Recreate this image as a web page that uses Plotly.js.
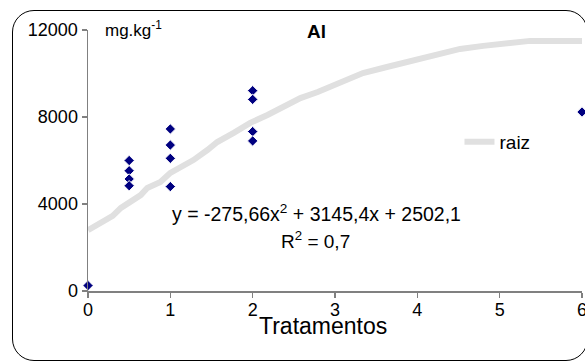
<!DOCTYPE html>
<html>
<head>
<meta charset="utf-8">
<script src="https://cdn.plot.ly/plotly-3.0.1.min.js"></script>
<style>
  html, body { margin: 0; padding: 0; background: #fff; }
  #wrap { position: relative; width: 585px; height: 363px; overflow: hidden; }
  #chart { position: absolute; left: 0; top: 0; width: 585px; height: 363px; }
  #frame { position: absolute; left: 12px; top: 10px; width: 574px; height: 349px;
           border: 1.5px solid #000; border-radius: 22px; pointer-events: none; }
</style>
</head>
<body>
<div id="wrap">
  <div id="chart"></div>
  <div id="frame"></div>
</div>
<script>
// Measured data (Tratamentos vs Al, mg/kg)
const pointsX = [0, 0.5, 0.5, 0.5, 0.5, 1, 1, 1, 1, 2, 2, 2, 2, 6];
const pointsY = [250, 6000, 5530, 5150, 4840, 7450, 6710, 6100, 4800, 9210, 8810, 7330, 6900, 8230];

// "raiz" curve
const raizX = [0, 0.15, 0.3, 0.4, 0.52, 0.64, 0.72, 0.88, 1.0, 1.12, 1.28, 1.45, 1.57, 1.77, 1.97,
               2.18, 2.37, 2.58, 2.79, 2.94, 3.06, 3.34, 3.63, 3.87, 4.12, 4.4, 4.52, 4.8, 5.09, 5.37, 6.0];
const raizY = [2800, 3130, 3450, 3820, 4090, 4410, 4740, 5010, 5430, 5660, 6020, 6480, 6850, 7270, 7730,
               8090, 8460, 8870, 9150, 9380, 9560, 10020, 10300, 10530, 10760, 11080, 11130, 11270, 11400, 11500, 11500];

const xTicks = [0, 1, 2, 3, 4, 5, 6];
const yTicks = [0, 4000, 8000, 12000];

const chartTitle = 'Al';
const unitLabel = 'mg.kg<sup>-1</sup>';
const xTitle = 'Tratamentos';
const eqText = 'y = -275,66x<sup>2</sup> + 3145,4x + 2502,1';
const r2Text = 'R<sup>2</sup> = 0,7';
const seriesName = 'raiz';

const FONT = 'Arial, "Liberation Sans", sans-serif';

const traces = [
  {
    x: raizX, y: raizY, type: 'scatter', mode: 'lines', name: seriesName,
    line: { color: '#e0e0e0', width: 6 }, showlegend: true, hoverinfo: 'skip'
  },
  {
    x: pointsX, y: pointsY, type: 'scatter', mode: 'markers', name: 'dados',
    marker: { symbol: 'diamond', size: 8, color: '#000080', line: { color: '#ffffff', width: 1 } },
    showlegend: false, cliponaxis: false
  }
];

const axisCommon = {
  showline: true, linecolor: '#808080', linewidth: 1.5,
  ticks: 'outside', ticklen: 5, tickcolor: '#808080', tickwidth: 1.5,
  showgrid: false, zeroline: false, ticklabeloverflow: 'allow',
  tickfont: { family: FONT, size: 18, color: '#000' }
};

const layout = {
  width: 585, height: 363,
  margin: { l: 88, r: 3, t: 30, b: 72 },
  paper_bgcolor: '#fff', plot_bgcolor: '#fff',
  font: { family: FONT, size: 18, color: '#000' },
  xaxis: Object.assign({}, axisCommon, { range: [0, 6], tickvals: xTicks, ticktext: xTicks.map(String), ticklabelstandoff: -3 }),
  yaxis: Object.assign({}, axisCommon, { range: [0, 12000], tickvals: yTicks, tickformat: 'd', ticklabelstandoff: 0 }),
  showlegend: true,
  legend: {
    x: 0.752, y: 0.571, xanchor: 'left', yanchor: 'middle',
    bgcolor: 'rgba(0,0,0,0)', borderwidth: 0,
    font: { family: FONT, size: 19, color: '#000' }
  },
  annotations: [
    { text: '<b>' + chartTitle + '</b>', xref: 'paper', yref: 'paper', x: 0.463, y: 0.995,
      xanchor: 'center', yanchor: 'middle', showarrow: false, font: { family: FONT, size: 19, color: '#000' } },
    { text: unitLabel, xref: 'paper', yref: 'paper', x: 0.03, y: 1.005,
      xanchor: 'left', yanchor: 'middle', showarrow: false, font: { family: FONT, size: 17, color: '#000' } },
    { text: eqText, xref: 'paper', yref: 'paper', x: 0.462, y: 0.298,
      xanchor: 'center', yanchor: 'middle', showarrow: false, font: { family: FONT, size: 19.5, color: '#000' } },
    { text: r2Text, xref: 'paper', yref: 'paper', x: 0.46, y: 0.195,
      xanchor: 'center', yanchor: 'middle', showarrow: false, font: { family: FONT, size: 19, color: '#000' } },
    { text: xTitle, xref: 'paper', yref: 'paper', x: 0.476, y: -0.135,
      xanchor: 'center', yanchor: 'middle', showarrow: false, font: { family: FONT, size: 23, color: '#000' } }
  ]
};

Plotly.newPlot('chart', traces, layout, { displayModeBar: false, staticPlot: true });
</script>
</body>
</html>
